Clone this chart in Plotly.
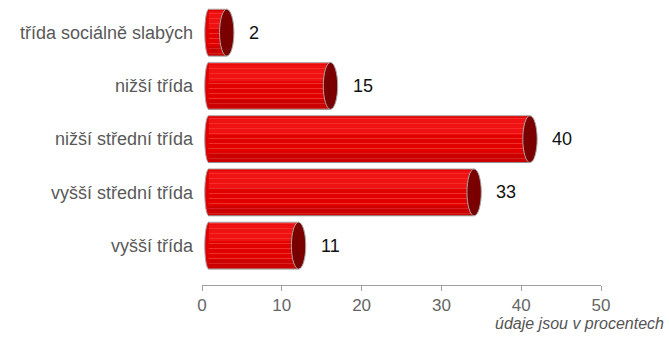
import plotly.graph_objects as go

categories = ["třída sociálně slabých", "nižší třída", "nižší střední třída",
              "vyšší střední třída", "vyšší třída"]
values = [2, 15, 40, 33, 11]
x_ticks = [0, 10, 20, 30, 40, 50]
footnote = "údaje jsou v procentech"

# styling constants (cylinder geometry in axis units)
BODY_START = 0.85
CAP_SHIFT = 1.1
CAP_HALF = 0.9
LEFT_HALF = 0.5
BAR_W = 0.88

idx = list(range(len(categories)))
ends = [v + CAP_SHIFT for v in values]
lengths = [e - BODY_START for e in ends]

fig = go.Figure()
fig.add_trace(go.Bar(
    y=idx, x=lengths, base=BODY_START,
    orientation="h", width=BAR_W,
    marker=dict(color="#e00000", line=dict(width=0),
                pattern=dict(shape="-", fgcolor="#ff5c5c", size=5,
                             solidity=0.2, fillmode="overlay")),
    hoverinfo="skip", showlegend=False,
))
# light upper band (cylinder highlight)
fig.add_trace(go.Bar(
    y=idx, x=lengths, base=BODY_START, orientation="h",
    width=0.32, offset=-0.40,
    marker=dict(color="rgba(255,40,40,0.45)", line=dict(width=0)),
    hoverinfo="skip", showlegend=False,
))
# darker lower band (shading)
fig.add_trace(go.Bar(
    y=idx, x=lengths, base=BODY_START, orientation="h",
    width=0.18, offset=0.26,
    marker=dict(color="rgba(140,0,0,0.25)", line=dict(width=0)),
    hoverinfo="skip", showlegend=False,
))

shapes = []
annotations = []
for i, e, v in zip(idx, ends, values):
    shapes.append(dict(type="circle", xref="x", yref="y", layer="below",
                       x0=BODY_START - LEFT_HALF, x1=BODY_START + LEFT_HALF,
                       y0=i - BAR_W / 2, y1=i + BAR_W / 2,
                       fillcolor="#e00000", line=dict(color="#a0a0a0", width=1)))
    shapes.append(dict(type="line", xref="x", yref="y", layer="above",
                       x0=BODY_START, x1=e, y0=i - BAR_W / 2, y1=i - BAR_W / 2,
                       line=dict(color="#b0b0b0", width=1)))
    shapes.append(dict(type="line", xref="x", yref="y", layer="above",
                       x0=BODY_START, x1=e, y0=i + BAR_W / 2, y1=i + BAR_W / 2,
                       line=dict(color="#909090", width=1)))
    shapes.append(dict(type="circle", xref="x", yref="y", layer="above",
                       x0=e - CAP_HALF, x1=e + CAP_HALF,
                       y0=i - BAR_W / 2, y1=i + BAR_W / 2,
                       fillcolor="#7a0000", line=dict(color="#a8a8a8", width=1)))
    annotations.append(dict(x=e + CAP_HALF, y=i, xref="x", yref="y",
                            text=str(v), showarrow=False, xanchor="left",
                            xshift=13, font=dict(size=18, color="#111111")))

annotations.append(dict(x=1, y=0, xref="paper", yref="paper", xanchor="right",
                        yanchor="top", yshift=-28, xshift=65,
                        text="<i>" + footnote + "</i>", showarrow=False,
                        font=dict(size=16, color="#555555")))

fig.update_layout(
    width=669, height=347,
    margin=dict(l=202, r=68, t=6, b=62),
    paper_bgcolor="white", plot_bgcolor="white",
    font=dict(family="Liberation Sans, Arial, sans-serif"),
    shapes=shapes, annotations=annotations,
    barmode="overlay",
)
fig.update_xaxes(range=[0, 50], tickvals=x_ticks, showgrid=False, zeroline=False,
                 showline=True, linecolor="#a0a0a0", linewidth=1,
                 ticks="outside", ticklen=5, tickcolor="#a0a0a0",
                 tickfont=dict(size=17, color="#666666"), fixedrange=True)
fig.update_yaxes(range=[4.74, -0.5], tickvals=idx, ticktext=categories,
                 showgrid=False, zeroline=False, showline=False, ticks="",
                 ticklabelstandoff=8,
                 tickfont=dict(size=18, color="#595959"), fixedrange=True)

fig.write_html("out.html", config={"displayModeBar": False},
               post_script="document.body.style.margin='0';")
